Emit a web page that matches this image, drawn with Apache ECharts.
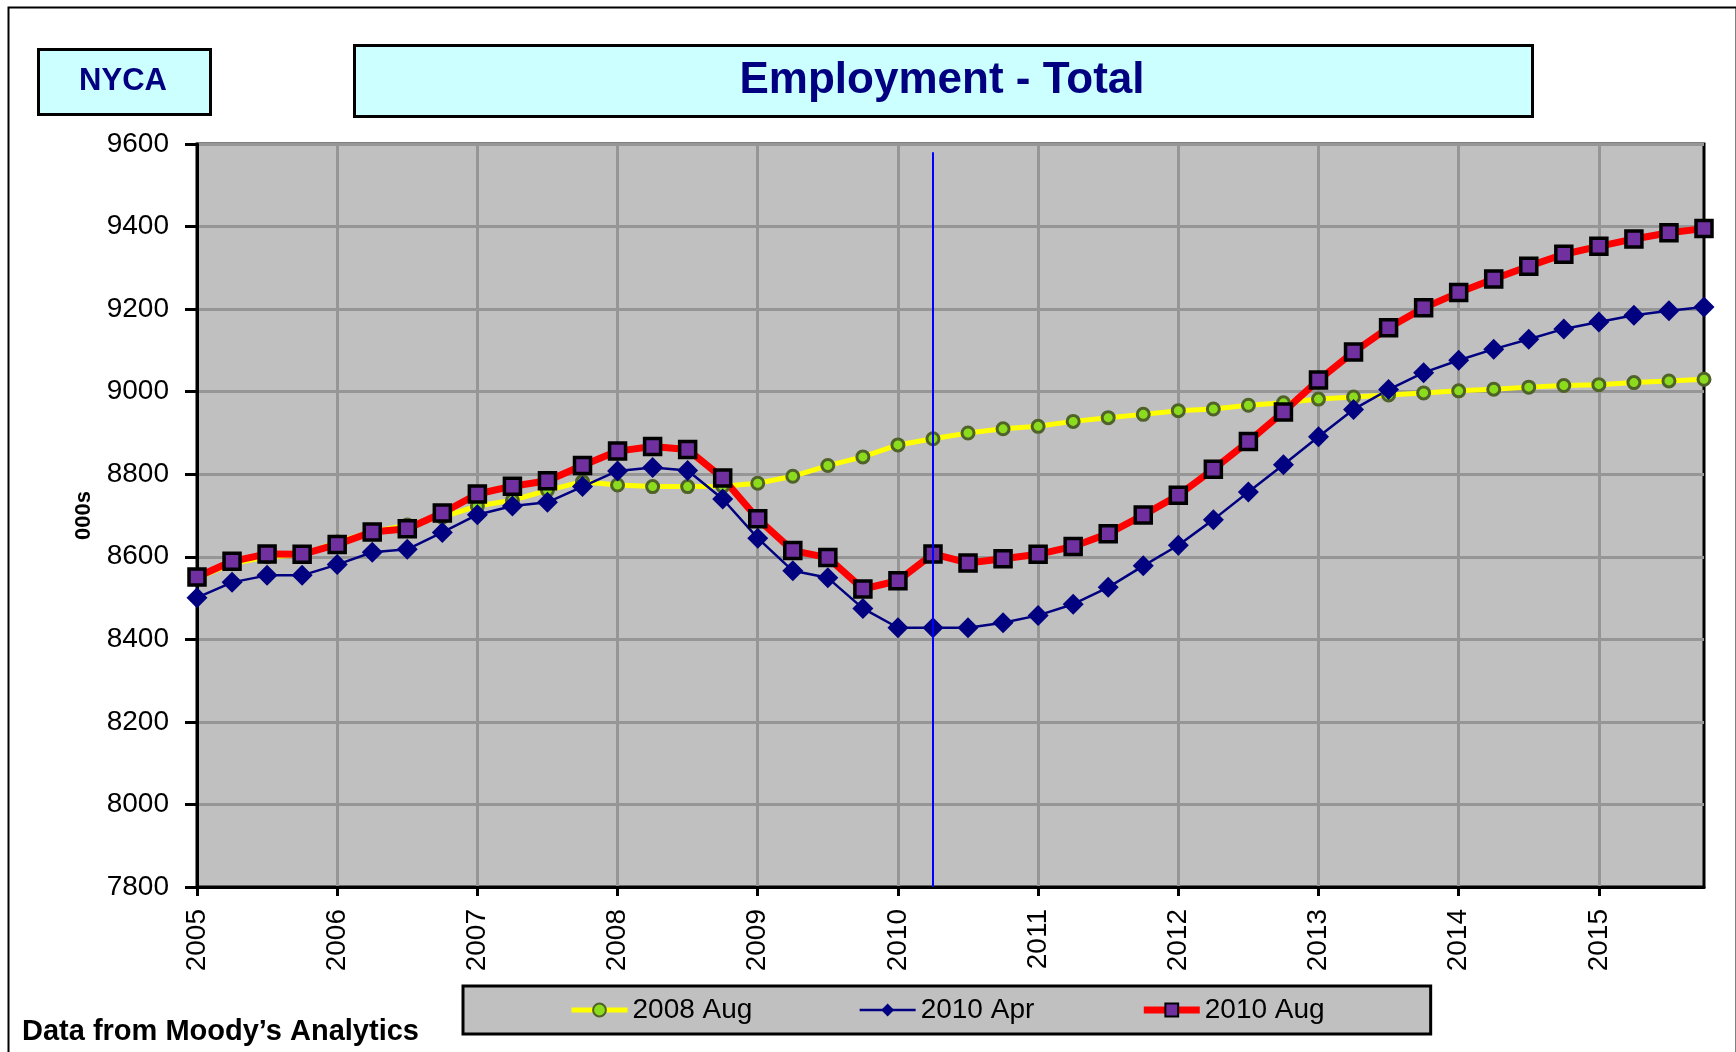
<!DOCTYPE html>
<html>
<head>
<meta charset="utf-8">
<title>Employment - Total</title>
<script src="https://cdn.jsdelivr.net/npm/echarts@6/dist/echarts.min.js"></script>
<style>
  html, body { margin: 0; padding: 0; background: #fff; }
  #chart { width: 1736px; height: 1052px; }
</style>
</head>
<body>
<div id="chart"></div>
<script>
// categories: quarters 2005Q1 .. 2015Q4
const years = ['2005', '2006', '2007', '2008', '2009', '2010', '2011', '2012', '2013', '2014', '2015'];
const quarters = ['Q1', 'Q2', 'Q3', 'Q4'];
const categories = [];
years.forEach(y => quarters.forEach(q => categories.push(y + q)));

// y axis ticks
const yMin = 7800;
const yMax = 9600;
const yStep = 200;

// series values (thousands)
const aug2008 = [
  8548, 8583, 8600, 8604, 8636, 8660, 8677, 8696, 8723, 8737, 8761,
  8782, 8774, 8770, 8770, 8771, 8778, 8795, 8821, 8842, 8871, 8886,
  8900, 8910, 8916, 8928, 8937, 8945, 8954, 8958, 8967, 8973, 8982,
  8987, 8992, 8997, 9002, 9006, 9011, 9015, 9017, 9022, 9026, 9030
];
const apr2010 = [
  8501, 8538, 8555, 8555, 8581, 8611, 8618, 8659, 8702, 8723, 8732,
  8770, 8808, 8816, 8809, 8740, 8645, 8566, 8549, 8475, 8428, 8428,
  8428, 8440, 8458, 8485, 8526, 8578, 8628, 8690, 8757, 8823, 8891,
  8957, 9005, 9046, 9076, 9103, 9127, 9152, 9169, 9185, 9196, 9205
];
const aug2010 = [
  8551, 8589, 8607, 8606, 8630, 8660, 8668, 8706, 8752, 8771, 8784,
  8821, 8856, 8867, 8860, 8791, 8692, 8615, 8598, 8522, 8542, 8607,
  8585, 8595, 8606, 8625, 8656, 8701, 8749, 8812, 8879, 8951, 9028,
  9096, 9155, 9203, 9240, 9273, 9304, 9333, 9352, 9370, 9385, 9395
];

// vertical marker: forecast start
const markerCategory = '2010Q2';
const markerTop = 9580;

const FONT = '"Liberation Sans", Arial, sans-serif';

const chart = echarts.init(document.getElementById('chart'));

const isYearStart = (i) => i % 4 === 0;

const option = {
  animation: false,
  backgroundColor: '#ffffff',
  textStyle: { fontFamily: FONT },
  grid: {
    left: 197,
    right: 32,
    top: 144,
    bottom: 165,
    show: true,
    backgroundColor: '#c0c0c0',
    borderColor: '#000',
    borderWidth: 3
  },
  legend: {
    left: 463,
    top: 986,
    padding: [10, 106, 10, 106],
    itemGap: 106,
    itemWidth: 56,
    itemHeight: 16,
    backgroundColor: '#c0c0c0',
    borderColor: '#000',
    borderWidth: 3,
    lineStyle: { width: 'inherit' },
    textStyle: { fontSize: 28, color: '#000', fontFamily: FONT },
    data: ['2008 Aug', '2010 Apr', '2010 Aug']
  },
  xAxis: {
    type: 'category',
    data: categories,
    boundaryGap: false,
    axisLine: { lineStyle: { color: '#000', width: 3 } },
    axisTick: { show: true, interval: isYearStart, length: 9, lineStyle: { color: '#000', width: 3 } },
    axisLabel: {
      interval: isYearStart,
      rotate: 90,
      margin: 22,
      fontSize: 28,
      color: '#000',
      formatter: (v) => v.slice(0, 4)
    },
    splitLine: { show: true, interval: isYearStart, lineStyle: { color: '#969696', width: 3 } }
  },
  yAxis: {
    type: 'value',
    min: yMin,
    max: yMax,
    interval: yStep,
    name: '000s',
    nameLocation: 'middle',
    nameRotate: 90,
    nameGap: 102,
    nameTextStyle: { fontSize: 22, fontWeight: 'bold', color: '#000' },
    axisLine: { show: true, lineStyle: { color: '#000', width: 3 } },
    axisTick: { show: true, length: 12, lineStyle: { color: '#000', width: 3 } },
    axisLabel: { fontSize: 28, color: '#000', margin: 28, formatter: (v) => String(v) },
    splitLine: { show: true, lineStyle: { color: '#969696', width: 3 } }
  },
  series: [
    {
      name: '2008 Aug',
      type: 'line',
      data: aug2008,
      symbol: 'circle',
      symbolSize: 12,
      lineStyle: { color: '#ffff00', width: 5 },
      itemStyle: { color: '#8cdc1e', borderColor: '#4f6228', borderWidth: 3 }
    },
    {
      name: '2010 Apr',
      type: 'line',
      data: apr2010,
      symbol: 'diamond',
      symbolSize: 21,
      lineStyle: { color: '#000080', width: 2.5 },
      itemStyle: { color: '#000080' }
    },
    {
      name: '2010 Aug',
      type: 'line',
      data: aug2010,
      symbol: 'rect',
      symbolSize: 16,
      lineStyle: { color: '#ff0000', width: 7 },
      itemStyle: { color: '#7030a0', borderColor: '#000', borderWidth: 3.5 },
      // 预测起点竖线
      markLine: {
        silent: true,
        symbol: 'none',
        label: { show: false },
        lineStyle: { color: '#0000ff', width: 2, type: 'solid' },
        data: [[
          { coord: [markerCategory, markerTop] },
          { coord: [markerCategory, yMin] }
        ]]
      }
    }
  ],
  graphic: [
    // outer frame
    {
      type: 'rect',
      left: 6, top: 5,
      shape: { width: 1728, height: 1060 },
      style: { fill: 'none', stroke: '#000', lineWidth: 2 },
      z: 0
    },
    // region box
    {
      type: 'rect',
      left: 37, top: 48,
      shape: { width: 172, height: 65 },
      style: { fill: '#ccffff', stroke: '#000', lineWidth: 3 }
    },
    {
      type: 'text',
      x: 123, y: 81,
      style: {
        text: 'NYCA', fill: '#000080', font: 'bold 31px ' + FONT,
        align: 'center', verticalAlign: 'middle'
      }
    },
    // title box
    {
      type: 'rect',
      left: 353, top: 44,
      shape: { width: 1178, height: 71 },
      style: { fill: '#ccffff', stroke: '#000', lineWidth: 3 }
    },
    {
      type: 'text',
      x: 942, y: 81,
      style: {
        text: 'Employment - Total', fill: '#000080', font: 'bold 44px ' + FONT,
        align: 'center', verticalAlign: 'middle'
      }
    },
    // source note
    {
      type: 'text',
      x: 22, y: 1032,
      style: {
        text: 'Data from Moody\u2019s Analytics', fill: '#000', font: 'bold 29px ' + FONT,
        align: 'left', verticalAlign: 'middle'
      }
    }
  ]
};

chart.setOption(option);
window.addEventListener('resize', () => chart.resize());
</script>
</body>
</html>
